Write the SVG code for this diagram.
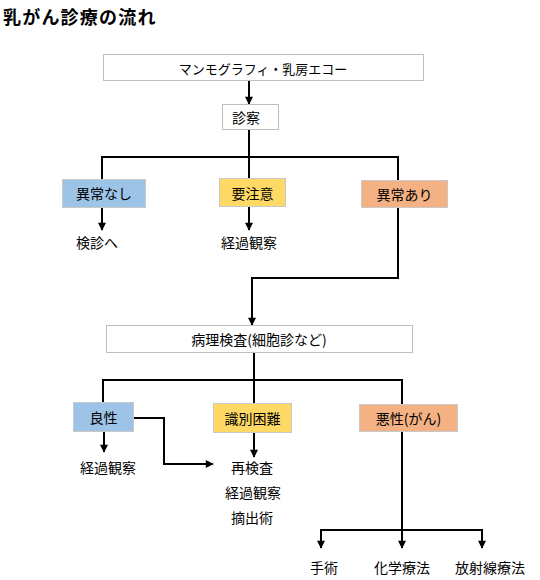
<svg xmlns="http://www.w3.org/2000/svg" width="540" height="580" viewBox="0 0 540 580">
<style>
  text { font-family: "Noto Sans CJK JP", "Liberation Sans", sans-serif; font-size: 14px; fill: #000; text-anchor: middle; dominant-baseline: central; }
  .title { font-size: 18px; font-weight: bold; text-anchor: start; dominant-baseline: auto; letter-spacing: 1.2px; }
  .white { fill: #ffffff; stroke: #bfbfbf; stroke-width: 1; }
  .blue { fill: #9dc3e6; stroke: #c9c9c9; stroke-width: 1; }
  .yellow { fill: #ffd966; stroke: #c9c9c9; stroke-width: 1; }
  .orange { fill: #f4b183; stroke: #c9c9c9; stroke-width: 1; }
  .conn path { fill: none; stroke: #000; stroke-width: 2; }
  .arrow { marker-end: url(#ah); }
</style>
<defs>
  <marker id="ah" viewBox="0 0 10 10" refX="9" refY="5" markerWidth="9" markerHeight="8" markerUnits="userSpaceOnUse" orient="auto">
    <path d="M0,0 L10,5 L0,10 z" fill="#000"/>
  </marker>
</defs>
<rect width="540" height="580" fill="#ffffff"/>
<text class="title" x="3" y="24">乳がん診療の流れ</text>

<g class="conn" id="connectors">
  <path class="arrow" d="M249,81 V104"/>
  <path d="M249,130 V179"/>
  <path d="M102,157 H398"/>
  <path d="M102,156 V179"/>
  <path d="M398,156 V180"/>
  <path class="arrow" d="M102,207 V230"/>
  <path class="arrow" d="M249,206 V230"/>
  <path class="arrow" d="M398,208 V278 H252 V325"/>
  <path d="M254,352 V403"/>
  <path d="M103,380 H402"/>
  <path d="M103,379 V402"/>
  <path d="M402,379 V404"/>
  <path class="arrow" d="M104,432 V452"/>
  <path class="arrow" d="M134,418 H164 V464 H213"/>
  <path class="arrow" d="M254,433 V457"/>
  <path class="arrow" d="M402,431 V548"/>
  <path d="M321,530 H482"/>
  <path class="arrow" d="M321,529 V548"/>
  <path class="arrow" d="M482,529 V548"/>
</g>

<g id="n-mammo"><rect class="white" x="103.5" y="54.5" width="320" height="26"/><text x="263" y="68" style="font-size:13px">マンモグラフィ・乳房エコー</text></g>
<g id="n-shinsatsu"><rect class="white" x="222.5" y="104.5" width="56" height="25"/><text x="246" y="117">診察</text></g>
<g id="n-ijounashi"><rect class="blue" x="62.5" y="179.5" width="83" height="28"/><text x="104" y="193">異常なし</text></g>
<g id="n-youchuui"><rect class="yellow" x="219.5" y="178.5" width="66" height="28"/><text x="252.5" y="192.5">要注意</text></g>
<g id="n-ijouari"><rect class="orange" x="361.5" y="180.5" width="86" height="27"/><text x="404.5" y="194">異常あり</text></g>
<g id="t-kenshin"><text x="97" y="242">検診へ</text></g>
<g id="t-keika1"><text x="249" y="242">経過観察</text></g>
<g id="n-byouri"><rect class="white" x="106.5" y="325.5" width="306" height="27"/><text x="259" y="339">病理検査(細胞診など)</text></g>
<g id="n-ryousei"><rect class="blue" x="73.5" y="402.5" width="60" height="29"/><text x="103.5" y="417">良性</text></g>
<g id="n-shikibetsu"><rect class="yellow" x="213.5" y="403.5" width="78" height="29"/><text x="252.5" y="418">識別困難</text></g>
<g id="n-akusei"><rect class="orange" x="359.5" y="404.5" width="98" height="27"/><text x="408.5" y="417.5">悪性(がん)</text></g>
<g id="t-keika2"><text x="108" y="467">経過観察</text></g>
<g id="t-saikensa"><text x="252" y="467">再検査</text><text x="253" y="492">経過観察</text><text x="252" y="517">摘出術</text></g>
<g id="t-shujutsu"><text x="324" y="567">手術</text></g>
<g id="t-kagaku"><text x="402" y="567">化学療法</text></g>
<g id="t-housha"><text x="490" y="567">放射線療法</text></g>
</svg>
